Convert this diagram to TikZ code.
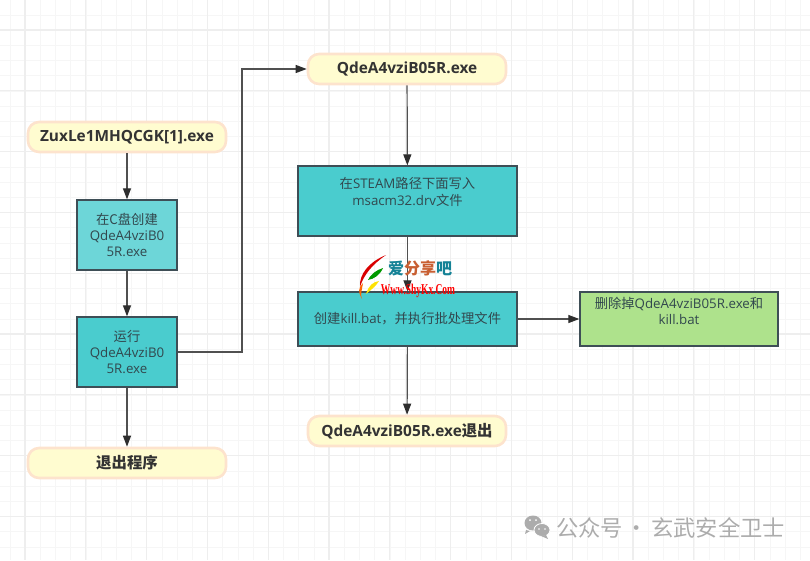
\documentclass[tikz,border=0pt]{standalone}
\usepackage{fontspec}
\usepackage{xcolor}
\usetikzlibrary{arrows.meta}
\setmainfont{Open Sans}
\newfontfamily\cjk{Noto Sans CJK SC}
\newfontfamily\wmserif{Liberation Serif}
\definecolor{gridminor}{RGB}{246,246,246}
\definecolor{gridmajor}{RGB}{238,238,238}
\definecolor{termfill}{RGB}{255,252,208}
\definecolor{termedge}{RGB}{253,227,205}
\definecolor{termtext}{RGB}{51,51,51}
\definecolor{boxedge}{RGB}{62,78,86}
\definecolor{boxtext}{RGB}{50,72,78}
\definecolor{boxteal}{RGB}{74,204,206}
\definecolor{boxpale}{RGB}{109,214,216}
\definecolor{boxgreen}{RGB}{174,226,140}
\definecolor{linkgray}{RGB}{80,80,80}
\definecolor{markteal}{RGB}{20,130,150}
\definecolor{markbrown}{RGB}{200,95,50}
\definecolor{markgray}{RGB}{172,172,172}
\tikzset{
  termbox/.style={rounded corners=11pt, draw=termedge, line width=2.6pt, fill=termfill,
    minimum width=198pt, minimum height=30pt, text=termtext, font=\bfseries\fontsize{15.4}{18}\selectfont, inner sep=0pt},
  procbox/.style={draw=boxedge, line width=1.3pt, fill=boxteal, inner sep=0pt},
  boxlabel/.style={text=boxtext, font=\fontsize{13.3}{16.4}\selectfont, align=center, inner sep=0pt},
  link/.style={draw=linkgray, line width=1.2pt, -{Triangle[length=11pt,width=8pt,color=termtext!90!black]}}
}
\begin{document}
\begin{tikzpicture}[x=1pt,y=-1pt]
    \useasboundingbox (0,0) rectangle (810,560);

    % Background grid
    \foreach \k in {0,...,53} {
        \draw[gridminor, line width=1pt] ({10+15.2*\k},0) -- ({10+15.2*\k},560);
    }
    \foreach \k in {0,...,36} {
        \draw[gridminor, line width=1pt] (0,{15+15.2*\k}) -- (810,{15+15.2*\k});
    }
    \foreach \k in {0,...,13} {
        \draw[gridmajor, line width=1.2pt] ({25+60.8*\k},0) -- ({25+60.8*\k},560);
    }
    \foreach \k in {0,...,9} {
        \draw[gridmajor, line width=1.2pt] (0,{30+60.8*\k}) -- (810,{30+60.8*\k});
    }

    % Left column
    \node[termbox] (start) at (127,137) {ZuxLe1MHQCGK[1].exe};
    \node[procbox, fill=boxpale, minimum width=100pt, minimum height=70pt] (create) at (127,235) {};
    \node[boxlabel] (createtext) at (127,235) {{\cjk 在C盘创建}\\QdeA4vziB0\\5R.exe};
    \node[procbox, minimum width=100pt, minimum height=70pt] (run) at (127,352) {};
    \node[boxlabel] (runtext) at (127,352) {{\cjk 运行}\\QdeA4vziB0\\5R.exe};
    \node[termbox] (quit) at (127,463) {{\cjk 退出程序}};

    % Middle column
    \node[termbox] (dropped) at (407,69) {QdeA4vziB05R.exe};
    \node[procbox, minimum width=219pt, minimum height=70pt] (write) at (407.5,201) {};
    \node[boxlabel] (writetext) at (407.5,192) {{\cjk 在}STEAM{\cjk 路径下面写入}\\msacm32.drv{\cjk 文件}};
    \node[procbox, minimum width=219pt, minimum height=54pt] (kill) at (407.5,319) {};
    \node[boxlabel] (killtext) at (407.5,319) {{\cjk 创建}kill.bat{\cjk ，并执行批处理文件}};
    \node[termbox] (done) at (407,431) {QdeA4vziB05R.exe{\cjk 退出}};

    % Right box
    \node[procbox, fill=boxgreen, minimum width=198pt, minimum height=54pt] (cleanup) at (679,319) {};
    \node[boxlabel] (cleanuptext) at (679,311) {{\cjk 删除掉}QdeA4vziB05R.exe{\cjk 和}\\kill.bat};

    % Connectors
    \draw[link] (start) -- (create);
    \draw[link] (create) -- (run);
    \draw[link] (run) -- (quit);
    \draw[link] (run.east) -- (242,352) -- (242,69) -- (dropped.west);
    \draw[link] (dropped) -- (write);
    \draw[link] (write) -- (kill);
    \draw[link] (kill) -- (done);
    \draw[link] (kill) -- (cleanup);

    % Site watermark
    \fill[red!85!black] (386,255) .. controls (369,262) and (359,274) .. (360,287) .. controls (364,274) and (373,264) .. (386,255);
    \fill[orange!80!red] (360,287) .. controls (358,292) and (360,295) .. (362,299) .. controls (360,294) and (362,290) .. (363,283);
    \fill[green!60!black] (383,268) .. controls (376,270) and (370,275) .. (368,280) .. controls (374,279) and (380,275) .. (383,268);
    \fill[yellow!85!orange] (379,281) .. controls (373,282) and (369,285) .. (366,294) .. controls (371,290) and (376,286) .. (379,281);
    \node[inner sep=0pt, font=\cjk\bfseries\fontsize{16}{16}\selectfont] (marktitle) at (420,268)
        {\textcolor{markteal}{爱}\textcolor{markbrown}{分享}\textcolor{markteal}{吧}};
    \node[inner sep=0pt, text=red, xscale=0.63, transform shape, font=\wmserif\bfseries\fontsize{15}{15}\selectfont] (markurl) at (418,291) {Www.ShyKx.Com};

    % Account watermark
    \fill[markgray] (533,523) ellipse (8.5pt and 7.5pt);
    \fill[markgray] (526,530) -- (525,534) -- (530,531) -- cycle;
    \draw[white, line width=0.8pt, fill=markgray] (542,530) ellipse (8pt and 6.5pt);
    \fill[markgray] (546,535) -- (548,539) -- (541,536) -- cycle;
    \fill[white] (530,520) circle (1pt) (536,520) circle (1pt) (539,529) circle (0.9pt) (545,529) circle (0.9pt);
    \node[inner sep=0pt, text=markgray, font=\cjk\fontsize{22.3}{23}\selectfont] (account) at (670.5,528) {公众号\hspace{3pt}·\hspace{3pt}玄武安全卫士};
\end{tikzpicture}
\end{document}
